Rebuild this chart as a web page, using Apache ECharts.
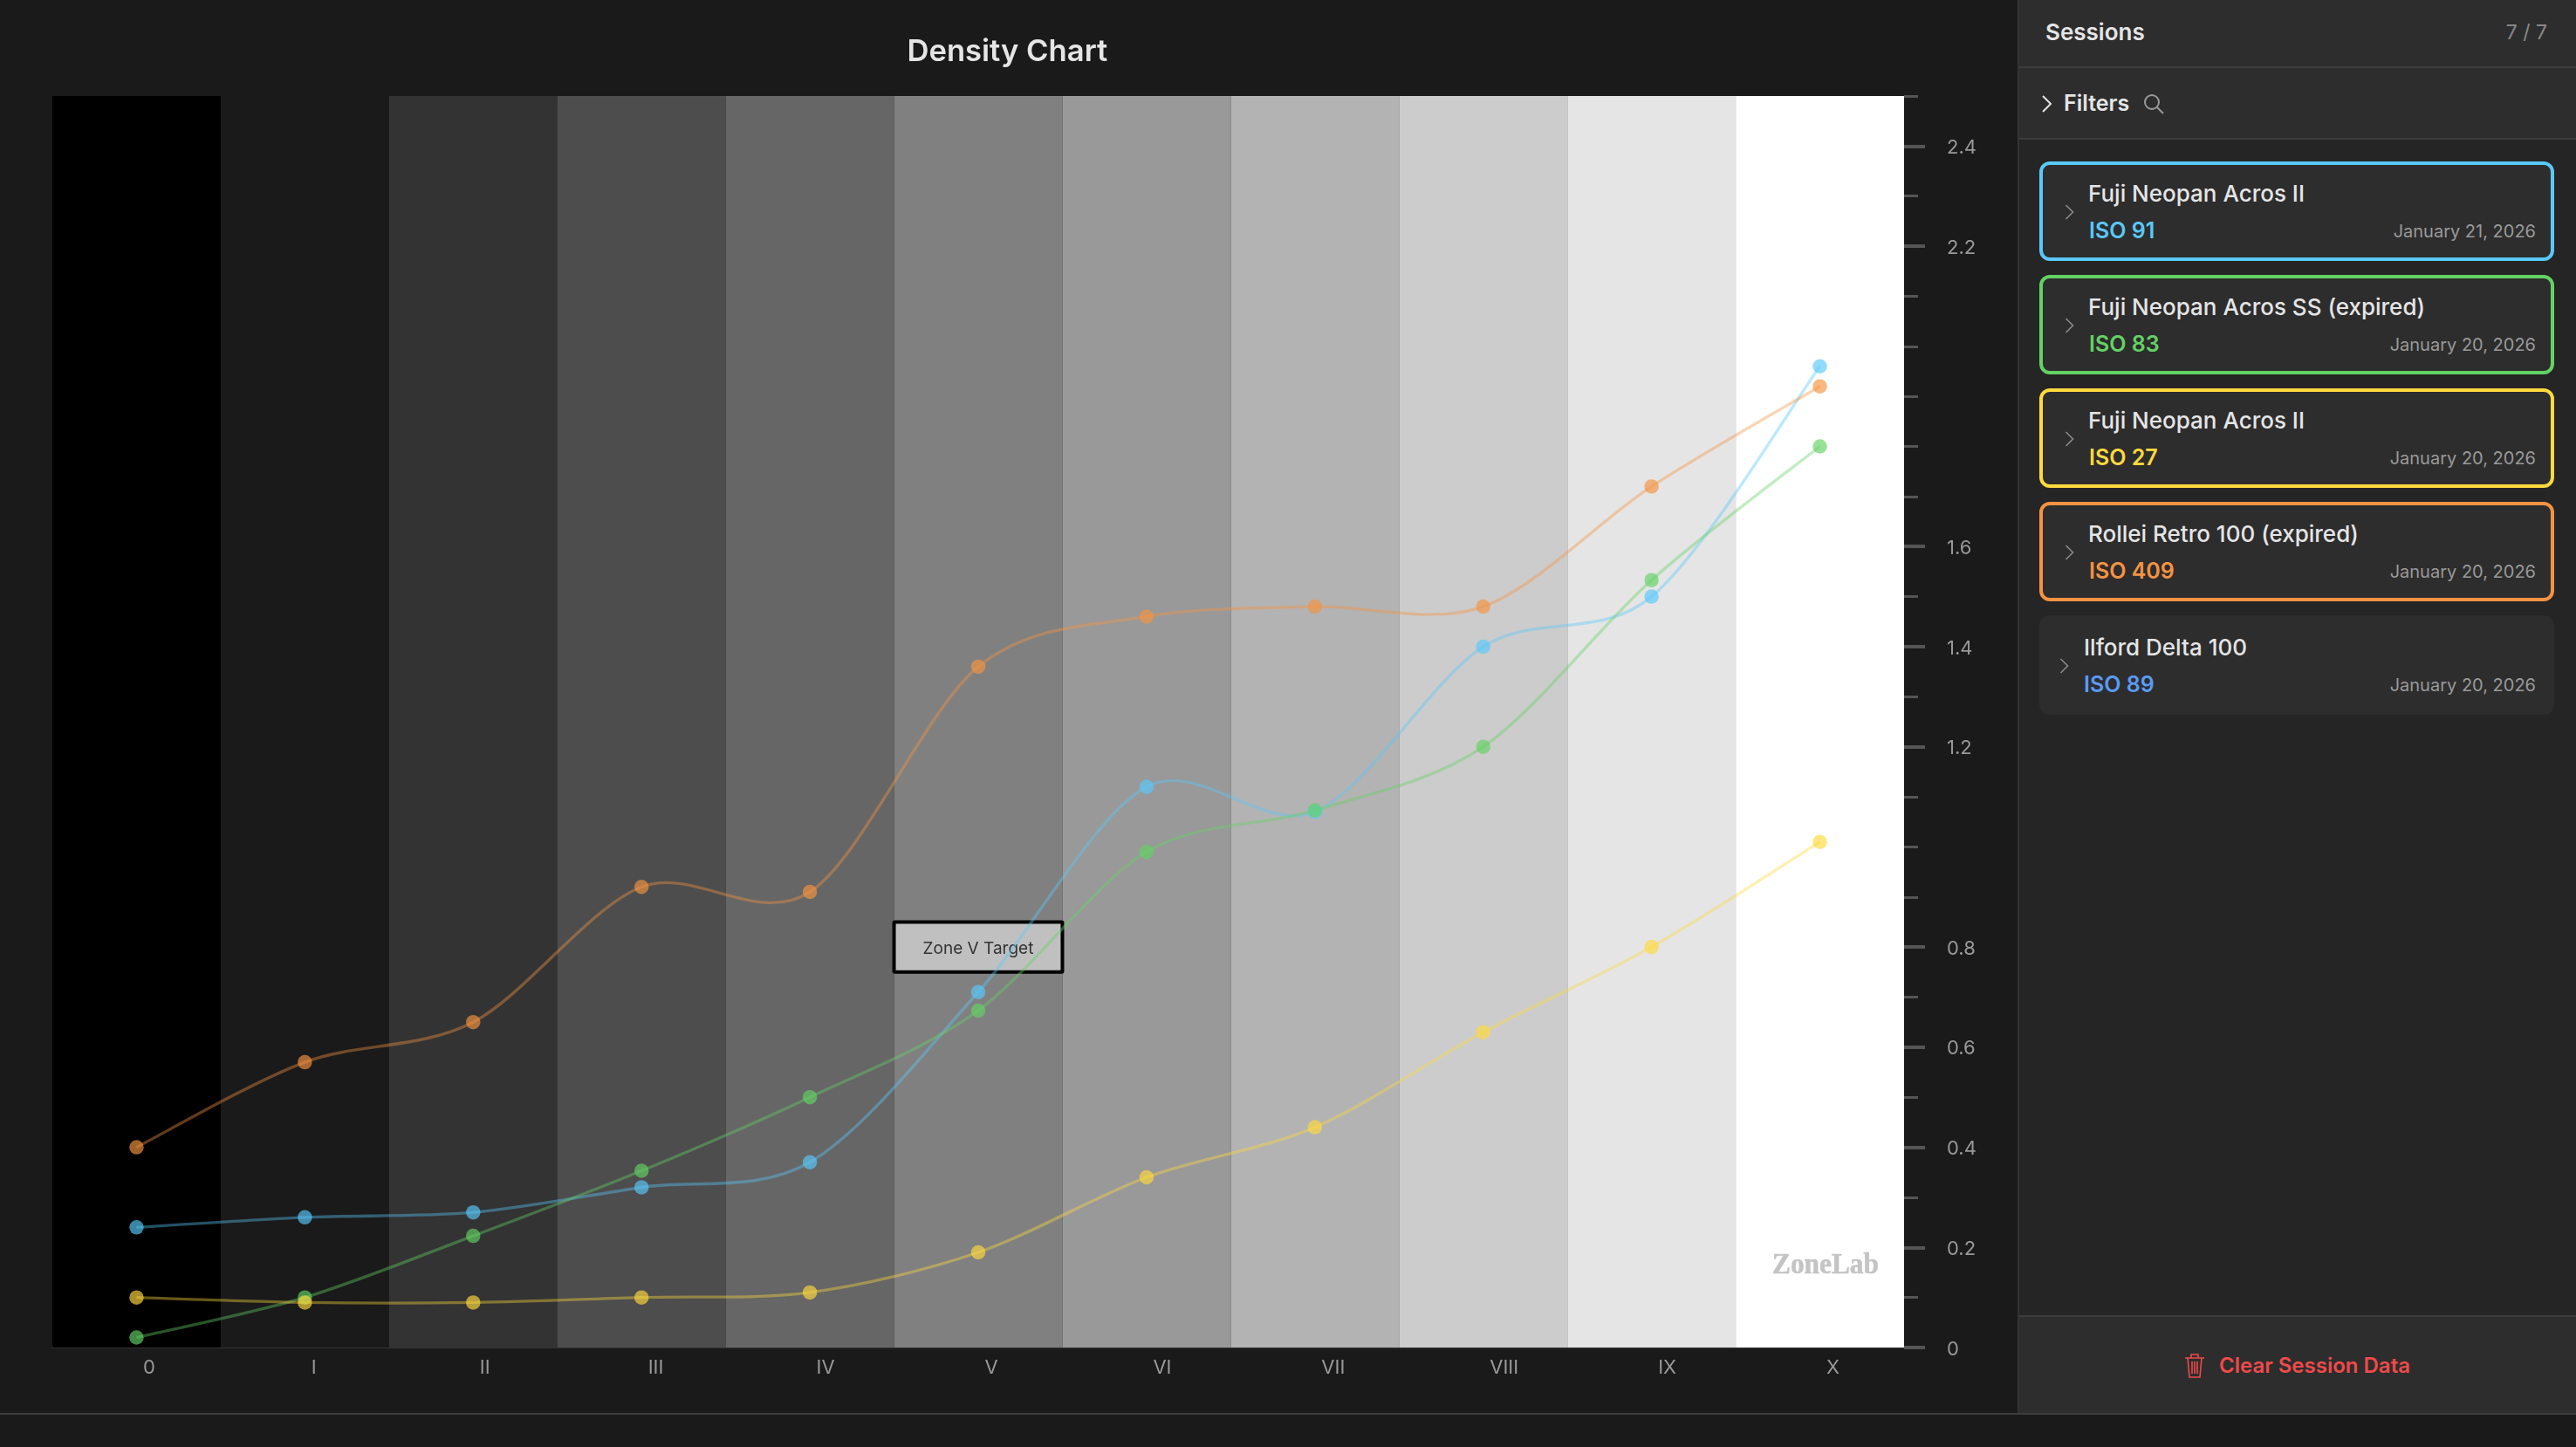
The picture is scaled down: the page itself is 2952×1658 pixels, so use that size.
<!DOCTYPE html>
<html>
<head>
<meta charset="utf-8">
<title>Density Chart</title>
<script src="https://cdn.jsdelivr.net/npm/echarts@6/dist/echarts.min.js"></script>
<style>
  html, body { margin: 0; padding: 0; width: 2952px; height: 1658px; overflow: hidden; background: #1a1a1a; font-family: Inter, sans-serif; }
  #main { position: absolute; left: 0; top: 0; width: 2312px; height: 1620px; }
  #bottomline { position: absolute; left: 0; top: 1619px; width: 2952px; height: 2px; background: #3d3d3d; }
  #side { position: absolute; left: 2312px; top: 0; width: 640px; height: 1619px; background: #252525; border-left: 2px solid #333; box-sizing: border-box; color: #e5e5e5; }
  .head { position: absolute; left: 0; right: 0; top: 0; height: 76px; background: #2d2d2d; border-bottom: 2px solid #3d3d3d; }
  .head b { position: absolute; left: 30px; top: 21px; font-size: 26px; line-height: 32px; font-weight: 600; }
  .head span { position: absolute; right: 33px; top: 21px; font-size: 23px; line-height: 32px; color: #888; }
  .filters { position: absolute; left: 0; right: 0; top: 78px; height: 80px; background: #2d2d2d; border-bottom: 2px solid #3d3d3d; }
  .filters b { position: absolute; left: 51px; top: 24px; font-size: 25px; line-height: 32px; font-weight: 600; }
  .filters svg { position: absolute; }
  .card { position: absolute; left: 23px; width: 590px; height: 114px; box-sizing: border-box; border-radius: 12px; background: #2d2d2d; border: 4px solid transparent; }
  .card svg { position: absolute; left: 25px; top: 45px; }
  .card .name { position: absolute; left: 52px; top: 16px; font-size: 26px; line-height: 34px; font-weight: 500; white-space: nowrap; }
  .card .iso { position: absolute; left: 53px; top: 59px; font-size: 25px; line-height: 32px; font-weight: 600; }
  .card .date { position: absolute; right: 17px; top: 61px; font-size: 20px; line-height: 30px; color: #999; }
  .card.off .name, .card.off .iso { left: 47px; }
  .card.off svg { left: 19px; }
  .foot { position: absolute; left: 0; right: 0; top: 1507px; height: 112px; background: #2d2d2d; border-top: 2px solid #3d3d3d; box-sizing: border-box; color: #ef4a4a; }
  .foot span { position: absolute; left: 229px; top: 40px; font-size: 24px; line-height: 32px; font-weight: 600; white-space: nowrap; }
  .foot svg { position: absolute; left: 188px; top: 41px; }
</style>
</head>
<body>
<div id="main"></div>
<div id="bottomline"></div>
<div id="side">
  <div class="head"><b>Sessions</b><span>7 / 7</span></div>
  <div class="filters">
    <svg style="left:24px;top:31px" width="14" height="20" viewBox="0 0 14 20" fill="none" stroke="#e5e5e5" stroke-width="2"><path d="M3 1l9 9-9 9"/></svg>
    <b>Filters</b>
    <svg style="left:142px;top:29px" width="24" height="24" viewBox="0 0 24 24" fill="none" stroke="#999" stroke-width="2"><circle cx="10" cy="10" r="8"/><path d="M16 16l7 7"/></svg>
  </div>
  <div id="cards"></div>
  <div class="foot">
    <svg width="26" height="30" viewBox="0 0 26 30" fill="none" stroke="#ef4a4a" stroke-width="1.6"><path d="M2 6h22M9 6V2h8v4M5 6l2 22h12l2-22M10 10v14M13 10v14M16 10v14"/></svg>
    <span>Clear Session Data</span>
  </div>
</div>
<script>
const zoneLabels = ['0', 'I', 'II', 'III', 'IV', 'V', 'VI', 'VII', 'VIII', 'IX', 'X'];
const zoneGrays = [0, 26, 51, 77, 102, 128, 153, 179, 204, 229, 255];

const acrosBlue = [0.24, 0.26, 0.27, 0.32, 0.37, 0.71, 1.12, 1.07, 1.40, 1.50, 1.96];
const acrosSsGreen = [0.02, 0.10, 0.223, 0.353, 0.50, 0.673, 0.99, 1.073, 1.20, 1.533, 1.80];
const acrosYellow = [0.10, 0.09, 0.09, 0.10, 0.11, 0.19, 0.34, 0.44, 0.63, 0.80, 1.01];
const retroOrange = [0.40, 0.57, 0.65, 0.92, 0.91, 1.36, 1.46, 1.48, 1.48, 1.72, 1.92];

const sessionNames = ['Fuji Neopan Acros II', 'Fuji Neopan Acros SS (expired)', 'Fuji Neopan Acros II', 'Rollei Retro 100 (expired)', 'Ilford Delta 100'];
const sessionIsos = [91, 83, 27, 409, 89];
const sessionDates = ['January 21, 2026', 'January 20, 2026', 'January 20, 2026', 'January 20, 2026', 'January 20, 2026'];
const sessionColors = ['#5ac8fa', '#63d264', '#ffd93d', '#f59342', '#5b9bf5'];
const sessionValues = [acrosBlue, acrosSsGreen, acrosYellow, retroOrange];

const labelledTicks = [0, 0.2, 0.4, 0.6, 0.8, 1.2, 1.4, 1.6, 2.2, 2.4];
const yMax = 2.5;
const targetZone = 5;
const targetRange = [0.75, 0.85];
const targetText = 'Zone V Target';
const curveTension = 0.155;

// session list
const cards = document.getElementById('cards');
sessionNames.forEach((name, i) => {
  const active = i < sessionValues.length;
  const el = document.createElement('div');
  el.className = active ? 'card' : 'card off';
  el.style.top = (185 + 130 * i) + 'px';
  if (active) el.style.borderColor = sessionColors[i];
  el.innerHTML = '<svg width="11" height="18" viewBox="0 0 11 18" fill="none" stroke="#8a8a8a" stroke-width="1.6"><path d="M1.5 1l8 8-8 8"/></svg>' +
    '<div class="name">' + name + '</div>' +
    '<div class="iso" style="color:' + sessionColors[i] + '">ISO ' + sessionIsos[i] + '</div>' +
    '<div class="date">' + sessionDates[i] + '</div>';
  cards.appendChild(el);
});

const chart = echarts.init(document.getElementById('main'));

// one bezier per pair of points, the line series' own smoothing flattens these curves too much
const curveSeries = sessionValues.map((values, s) => ({
  type: 'custom',
  silent: true,
  z: 3,
  data: values.slice(0, -1).map((v, i) => [i, v]),
  encode: { x: 0, y: 1 },
  renderItem: (params, api) => {
    const i = api.value(0);
    const at = (k) => api.coord([Math.max(0, Math.min(values.length - 1, k)), values[Math.max(0, Math.min(values.length - 1, k))]]);
    const p0 = at(i - 1), p1 = at(i), p2 = at(i + 1), p3 = at(i + 2);
    return {
      type: 'bezierCurve',
      shape: {
        x1: p1[0], y1: p1[1], x2: p2[0], y2: p2[1],
        cpx1: p1[0] + (p2[0] - p0[0]) * curveTension,
        cpy1: p1[1] + (p2[1] - p0[1]) * curveTension,
        cpx2: p2[0] - (p3[0] - p1[0]) * curveTension,
        cpy2: p2[1] - (p3[1] - p1[1]) * curveTension
      },
      style: { fill: 'none', stroke: sessionColors[s], lineWidth: 3.4, opacity: 0.4 }
    };
  }
}));

const pointSeries = sessionValues.map((values, i) => ({
  name: sessionNames[i],
  type: 'scatter',
  z: 4,
  data: values,
  symbol: 'circle',
  symbolSize: 16.5,
  itemStyle: { color: sessionColors[i], opacity: 0.66 }
}));

chart.setOption({
  backgroundColor: '#1a1a1a',
  animation: false,
  title: {
    text: 'Density Chart',
    left: 1034.5,
    top: 37,
    textStyle: { color: '#e5e5e5', fontFamily: 'Inter', fontSize: 34.6, fontWeight: 600 }
  },
  grid: { left: 60, right: 130, top: 110, bottom: 76 },
  xAxis: {
    type: 'category',
    data: zoneLabels,
    boundaryGap: true,
    axisLine: { show: true, lineStyle: { color: '#333', width: 2 } },
    axisTick: { show: false },
    axisLabel: {
      interval: 0,
      align: 'left',
      padding: [0, 0, 0, 7.5],
      margin: 12,
      color: '#999',
      fontFamily: 'Inter',
      fontSize: 22
    }
  },
  yAxis: [
    {
      type: 'value',
      position: 'right',
      min: 0,
      max: yMax,
      interval: 0.1,
      splitLine: { show: false },
      axisLine: { show: false },
      axisTick: { show: true, customValues: labelledTicks, length: 24, lineStyle: { color: '#555', width: 4 } },
      axisLabel: { show: true, customValues: labelledTicks, margin: 49, verticalAlign: 'top', padding: [-9, 0, 0, 0], color: '#999', fontFamily: 'Inter', fontSize: 22 }
    },
    {
      type: 'value',
      position: 'right',
      min: 0,
      max: yMax,
      interval: 0.1,
      splitLine: { show: false },
      axisLine: { show: false },
      axisTick: { show: true, length: 16, lineStyle: { color: '#555', width: 3 } },
      axisLabel: { show: false }
    }
  ],
  graphic: [{
    type: 'text',
    x: 2092,
    y: 1450,
    scaleX: 0.95,
    silent: true,
    z: 10,
    style: { text: 'ZoneLab', fill: '#c4c4c4', stroke: '#c4c4c4', lineWidth: 0.6, font: 'bold 33px "Liberation Serif"', align: 'center', verticalAlign: 'middle' }
  }],
  series: [
    {
      type: 'custom',
      silent: true,
      z: 1,
      data: zoneGrays.map((g, i) => [i, g]),
      encode: { x: 0 },
      renderItem: (params, api) => {
        const g = api.value(1);
        const top = api.coord([api.value(0), yMax]);
        const bottom = api.coord([api.value(0), 0]);
        const w = api.size([1, 0])[0];
        return {
          type: 'rect',
          shape: { x: top[0] - w / 2, y: top[1], width: w, height: bottom[1] - top[1] },
          style: { fill: 'rgb(' + g + ',' + g + ',' + g + ')' }
        };
      }
    },
    {
      type: 'custom',
      silent: true,
      z: 2,
      data: [[targetZone, targetRange[0], targetRange[1]]],
      encode: { x: 0 },
      renderItem: (params, api) => {
        const top = api.coord([api.value(0), api.value(2)]);
        const bottom = api.coord([api.value(0), api.value(1)]);
        const w = api.size([1, 0])[0];
        return {
          type: 'group',
          children: [
            {
              type: 'rect',
              shape: { x: top[0] - w / 2, y: top[1], width: w, height: bottom[1] - top[1], r: 1 },
              style: { fill: 'rgba(255,255,255,0.5)', stroke: '#000', lineWidth: 4 }
            },
            {
              type: 'text',
              x: top[0],
              y: (top[1] + bottom[1]) / 2 + 2,
              style: { text: targetText, fill: '#333', font: '19px Inter', align: 'center', verticalAlign: 'middle' }
            }
          ]
        };
      }
    }
  ].concat(curveSeries, pointSeries)
});
</script>
</body>
</html>
